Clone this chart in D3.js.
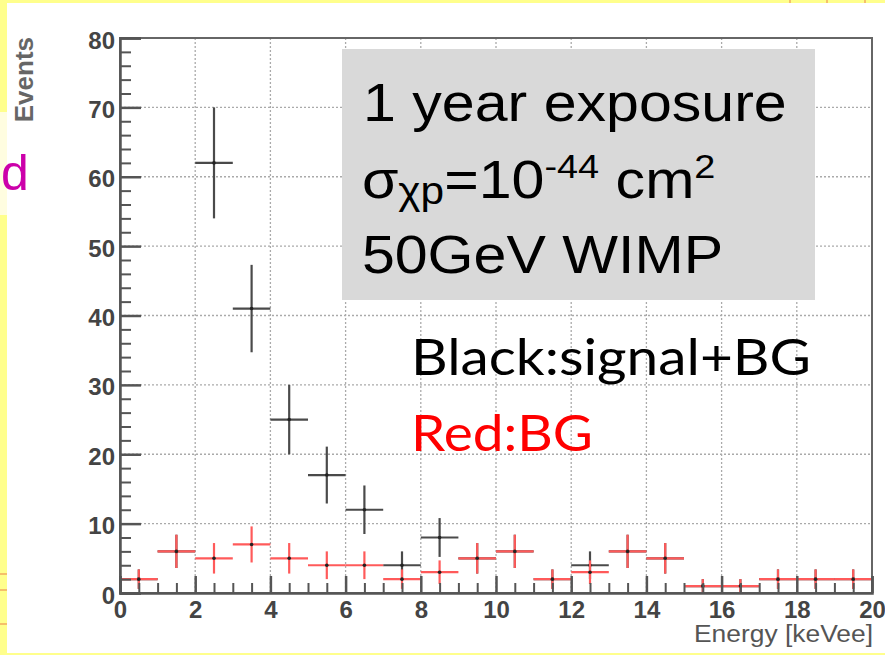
<!DOCTYPE html>
<html><head><meta charset="utf-8">
<script src="https://cdn.jsdelivr.net/npm/d3@7"></script>
<style>
html,body{margin:0;padding:0;background:#fff;}
svg{display:block;}
</style></head>
<body>
<svg id="chart" width="885" height="655"></svg>
<script>
// ---- data ----
const binCenters = [0.5,1.5,2.5,3.5,4.5,5.5,6.5,7.5,8.5,9.5,10.5,11.5,12.5,13.5,14.5,15.5,16.5,17.5,18.5,19.5];
const signalBG   = [2,6,62,41,25,17,12,4,8,5,6,2,4,6,5,1,1,2,2,2];
const signalErr  = [1.4,2.4,8,6.3,5,4.1,3.5,2,2.8,2.2,2.4,1.4,2,2.4,2.2,1,1,1.4,1.4,1.4];
const bgOnly     = [2,6,5,7,5,4,4,2,3,5,6,2,3,6,5,1,1,2,2,2];
const bgErr      = [1.4,2.4,2.2,2.6,2.2,2,2,1.4,1.7,2.2,2.4,1.4,1.7,2.4,2.2,1,1,1.4,1.4,1.4];
const xTicks = [0,2,4,6,8,10,12,14,16,18,20];
const yTicks = [0,10,20,30,40,50,60,70,80];
const binWidth = 1;

const svg = d3.select("#chart");
const W = 885, H = 655;
const L = 120, R = 872, T = 38, B = 593;

// slide remnants (yellow border)
svg.append("rect").attr("x",0).attr("y",0).attr("width",W).attr("height",H).attr("fill","#fff");
svg.append("rect").attr("x",0).attr("y",0).attr("width",W).attr("height",3).attr("fill","#ffff8c");
svg.append("rect").attr("x",0).attr("y",0).attr("width",7).attr("height",H).attr("fill","#ffff8c");
svg.append("rect").attr("x",0).attr("y",653).attr("width",W).attr("height",2).attr("fill","#ffff8c");
svg.append("rect").attr("x",0).attr("y",112).attr("width",7).attr("height",103).attr("fill","#fffde0");
svg.append("text").attr("x",1).attr("y",190).attr("font-family","Liberation Sans, Arial, sans-serif")
  .attr("font-size",50).attr("fill","#cc00aa").text("d");
[574,590,624].forEach(y=>svg.append("rect").attr("x",0).attr("y",y-1).attr("width",7).attr("height",2).attr("fill","#f5c06a"));
[790,827,865].forEach(x=>svg.append("rect").attr("x",x-1).attr("y",0).attr("width",2).attr("height",3).attr("fill","#f5c06a"));

const x = d3.scaleLinear().domain([0,20]).range([L,R]);
const y = d3.scaleLinear().domain([0,80]).range([B,T]);

// grid
const grid = svg.append("g").attr("stroke","#aaa").attr("stroke-width",1.3).attr("stroke-dasharray","2,2");
xTicks.filter(v=>v>0&&v<20).forEach(v=>grid.append("line").attr("x1",x(v)).attr("x2",x(v)).attr("y1",T).attr("y2",B));
yTicks.filter(v=>v>0&&v<80).forEach(v=>grid.append("line").attr("x1",L).attr("x2",R).attr("y1",y(v)).attr("y2",y(v)));

// info box
svg.append("rect").attr("x",342).attr("y",49).attr("width",473).attr("height",251).attr("fill","#d9d9d9");
const ff = "Liberation Sans, Arial, Helvetica, sans-serif";
const box = svg.append("g").attr("transform","translate(363,0) scale(1.115,1)")
  .attr("font-family",ff).attr("font-size",53).attr("fill","#000");
box.append("text").attr("x",0).attr("y",121).text("1 year exposure");
const t2 = box.append("text").attr("x",-1).attr("y",198);
t2.append("tspan").text("σ");
t2.append("tspan").attr("font-size",38).attr("dy",6).text("χp");
t2.append("tspan").attr("dy",-6).text("=10");
t2.append("tspan").attr("font-size",34).attr("dy",-20).text("-44");
t2.append("tspan").attr("dy",20).text(" cm");
t2.append("tspan").attr("font-size",34).attr("dy",-20).text("2");
box.append("text").attr("x",-1).attr("y",273).text("50GeV WIMP");

// legend text
svg.append("text").attr("x",411).attr("y",375).attr("font-family","Lato, Open Sans, sans-serif").attr("font-size",51)
  .attr("fill","#000").attr("textLength",400).attr("lengthAdjust","spacingAndGlyphs").text("Black:signal+BG");
svg.append("text").attr("x",411).attr("y",451).attr("font-family","Lato, Open Sans, sans-serif").attr("font-size",51)
  .attr("fill","#ff0000").attr("textLength",182).attr("lengthAdjust","spacingAndGlyphs").text("Red:BG");

// data crosses
function drawSeries(vals, errs, color){
  const g = svg.append("g");
  vals.forEach((v,i)=>{
    const c = binCenters[i];
    g.append("line").attr("x1",x(c-binWidth/2)).attr("x2",x(c+binWidth/2)).attr("y1",y(v)).attr("y2",y(v))
      .attr("stroke",color).attr("stroke-width",2.2);
    g.append("line").attr("x1",x(c)).attr("x2",x(c)).attr("y1",y(Math.max(0,v-errs[i]))).attr("y2",y(v+errs[i]))
      .attr("stroke",color).attr("stroke-width",2.2);
    g.append("circle").attr("cx",x(c)).attr("cy",y(v)).attr("r",1.8).attr("fill","#222");
  });
}
drawSeries(signalBG, signalErr, "#4a4a4a");
drawSeries(bgOnly, bgErr, "#ff5a5a");

// frame
svg.append("rect").attr("x",L).attr("y",T).attr("width",R-L).attr("height",B-T)
  .attr("fill","none").attr("stroke","#666").attr("stroke-width",2);

// y axis
const yAxis = d3.axisLeft(y).tickValues(yTicks).tickSize(-21).tickPadding(5).tickFormat(d3.format("d"));
const ya = svg.append("g").attr("transform",`translate(${L},0)`).call(yAxis);
ya.select(".domain").attr("stroke","#555").attr("stroke-width",2.5);
ya.selectAll(".tick line").attr("stroke","#555").attr("stroke-width",2.5);
ya.selectAll(".tick text").attr("x",-5).attr("font-family",ff).attr("font-weight","bold").attr("font-size",24).attr("fill","#444").attr("dy","0.42em");
const yMinor = d3.axisLeft(y).tickValues(d3.range(0,81,2).filter(v=>v%10!==0)).tickSize(-11).tickFormat("");
const ym = svg.append("g").attr("transform",`translate(${L},0)`).call(yMinor);
ym.select(".domain").remove();
ym.selectAll(".tick line").attr("stroke","#555").attr("stroke-width",2);

// x axis
const xAxis = d3.axisBottom(x).tickValues(xTicks).tickSize(-17).tickPadding(8).tickFormat(d3.format("d"));
const xa = svg.append("g").attr("transform",`translate(0,${B})`).call(xAxis);
xa.select(".domain").attr("stroke","#555").attr("stroke-width",2.5);
xa.selectAll(".tick line").attr("stroke","#555").attr("stroke-width",2.5);
xa.selectAll(".tick text").attr("y",8).attr("font-family",ff).attr("font-weight","bold").attr("font-size",24).attr("fill","#444").attr("dy","0.71em");
const xMinor = d3.axisBottom(x).tickValues(d3.range(0,20.01,0.5).filter(v=>v%2!==0)).tickSize(-10).tickFormat("");
const xm = svg.append("g").attr("transform",`translate(0,${B})`).call(xMinor);
xm.select(".domain").remove();
xm.selectAll(".tick line").attr("stroke","#555").attr("stroke-width",2);

// axis titles
svg.append("text").attr("x",R+1).attr("y",642).attr("text-anchor","end").attr("font-family",ff)
  .attr("font-size",23).attr("fill","#555").attr("textLength",179).attr("lengthAdjust","spacingAndGlyphs").text("Energy [keVee]");
svg.append("text").attr("transform","translate(33,37) rotate(-90)").attr("text-anchor","end").attr("font-family",ff)
  .attr("font-weight","bold").attr("font-size",26).attr("fill","#666").text("Events");
</script>
</body></html>
